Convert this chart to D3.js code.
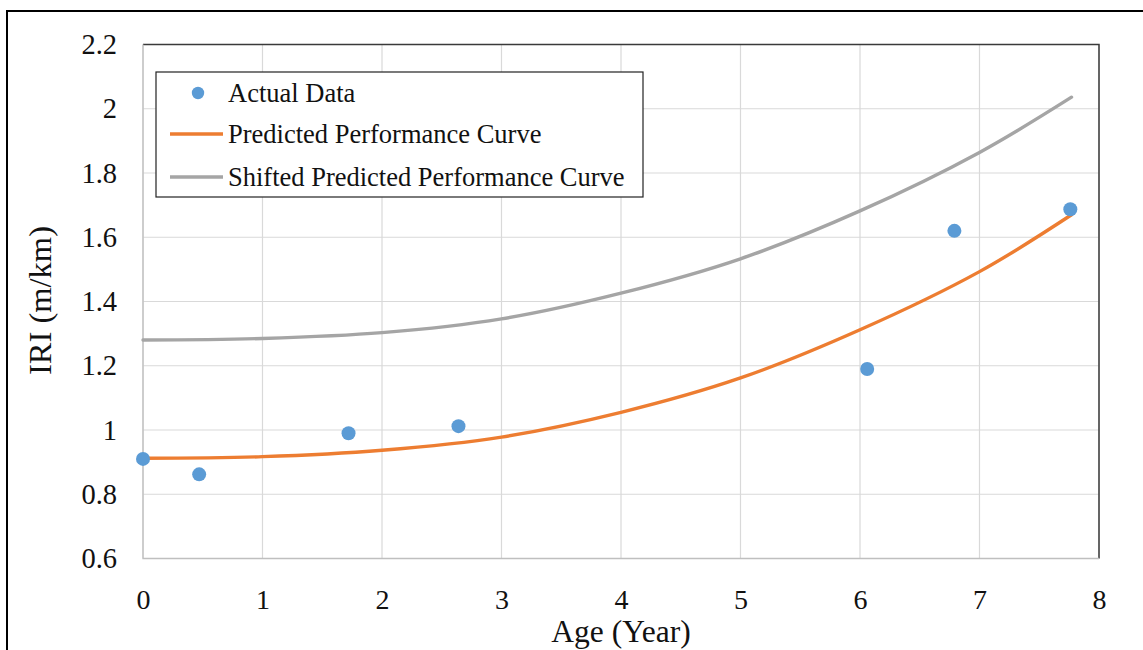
<!DOCTYPE html>
<html><head><meta charset="utf-8">
<script src="https://cdn.jsdelivr.net/npm/d3@7"></script>
<style>html,body{margin:0;padding:0;background:#fff;}svg{display:block;}svg text{font-family:"Liberation Serif","Times New Roman",serif !important;}</style>
</head><body><svg id="c" width="1143" height="650"></svg>
<script>
const actualAge = [0, 0.47, 1.72, 2.64, 6.06, 6.79, 7.76];
const actualIRI = [0.910, 0.862, 0.990, 1.012, 1.190, 1.620, 1.687];
const curveAge = [0, 1, 2, 3, 4, 5, 6, 7, 7.77];
const predictedIRI = [0.912, 0.917, 0.937, 0.978, 1.055, 1.162, 1.312, 1.493, 1.670];
const shiftedIRI = [1.280, 1.285, 1.303, 1.346, 1.426, 1.533, 1.682, 1.864, 2.036];
const xTicks = [0, 1, 2, 3, 4, 5, 6, 7, 8];
const yTicks = [0.6, 0.8, 1.0, 1.2, 1.4, 1.6, 1.8, 2.0, 2.2];
const legendLabels = ["Actual Data", "Predicted Performance Curve", "Shifted Predicted Performance Curve"];

const svg = d3.select("#c");
const L = 143, R = 1099, T = 44.5, B = 558.5;
const x = d3.scaleLinear().domain([0, 8]).range([L, R]);
const y = d3.scaleLinear().domain([0.6, 2.2]).range([B, T]);

// outer frame
svg.append("rect").attr("x", 7).attr("y", 11).attr("width", 1160).attr("height", 660)
  .attr("fill", "none").attr("stroke", "#000").attr("stroke-width", 2);

// gridlines
svg.append("g").selectAll("line").data(yTicks).join("line")
  .attr("x1", L).attr("x2", R).attr("y1", d => y(d)).attr("y2", d => y(d))
  .attr("stroke", "#d9d9d9").attr("stroke-width", 1.2);
svg.append("g").selectAll("line").data(xTicks).join("line")
  .attr("y1", T).attr("y2", B).attr("x1", d => x(d)).attr("x2", d => x(d))
  .attr("stroke", "#d9d9d9").attr("stroke-width", 1.2);

// plot border: top/right dark, left/bottom light axis
svg.append("path").attr("d", `M${L},${T}H${R}V${B}`).attr("fill", "none").attr("stroke", "#3a3a3a").attr("stroke-width", 1.5);
svg.append("path").attr("d", `M${L},${T}V${B}H${R}`).attr("fill", "none").attr("stroke", "#bfbfbf").attr("stroke-width", 1.3);

// axes (labels only)
const xAxis = svg.append("g").attr("transform", `translate(0,${B})`)
  .call(d3.axisBottom(x).tickValues(xTicks).tickFormat(d3.format("d")).tickSize(0).tickPadding(31));
xAxis.select(".domain").remove();
xAxis.selectAll("text").attr("font-size", 28).attr("fill", "#111");
const yAxis = svg.append("g").attr("transform", `translate(${L},0)`)
  .call(d3.axisLeft(y).tickValues(yTicks).tickFormat(d => d3.format("")(+d.toFixed(1))).tickSize(0).tickPadding(26));
yAxis.select(".domain").remove();
yAxis.selectAll("text").attr("font-size", 28.5).attr("fill", "#111");

// titles
svg.append("text").attr("x", (L + R) / 2).attr("y", 642).attr("text-anchor", "middle")
  .attr("font-size", 31.5).attr("fill", "#111").text("Age (Year)");
svg.append("text").attr("transform", `translate(51,${(T + B) / 2 - 1}) rotate(-90)`).attr("text-anchor", "middle")
  .attr("font-size", 32.5).attr("fill", "#111").text("IRI (m/km)");

// curves
const line = d3.line().x(d => x(d[0])).y(d => y(d[1])).curve(d3.curveCatmullRom.alpha(0.5));
svg.append("path").datum(curveAge.map((a, i) => [a, shiftedIRI[i]])).attr("d", line)
  .attr("fill", "none").attr("stroke", "#a5a5a5").attr("stroke-width", 3.4).attr("stroke-linecap", "round");
svg.append("path").datum(curveAge.map((a, i) => [a, predictedIRI[i]])).attr("d", line)
  .attr("fill", "none").attr("stroke", "#ed7d31").attr("stroke-width", 3.4).attr("stroke-linecap", "round");

// points
svg.append("g").selectAll("circle").data(actualAge.map((a, i) => [a, actualIRI[i]])).join("circle")
  .attr("cx", d => x(d[0])).attr("cy", d => y(d[1])).attr("r", 7).attr("fill", "#5b9bd5");

// legend
const lg = svg.append("g");
lg.append("rect").attr("x", 156).attr("y", 72).attr("width", 487).attr("height", 125)
  .attr("fill", "#fff").attr("stroke", "#222").attr("stroke-width", 1.2);
const rows = [93, 134, 177];
lg.append("circle").attr("cx", 198).attr("cy", rows[0]).attr("r", 6.2).attr("fill", "#5b9bd5");
lg.append("line").attr("x1", 170).attr("x2", 223).attr("y1", rows[1]).attr("y2", rows[1]).attr("stroke", "#ed7d31").attr("stroke-width", 3.4);
lg.append("line").attr("x1", 170).attr("x2", 223).attr("y1", rows[2]).attr("y2", rows[2]).attr("stroke", "#a5a5a5").attr("stroke-width", 3.4);
lg.selectAll("text").data(legendLabels).join("text")
  .attr("x", 228).attr("y", (d, i) => rows[i]).attr("dy", "0.35em")
  .attr("font-size", 26.5).attr("fill", "#111").text(d => d);
</script></body></html>
